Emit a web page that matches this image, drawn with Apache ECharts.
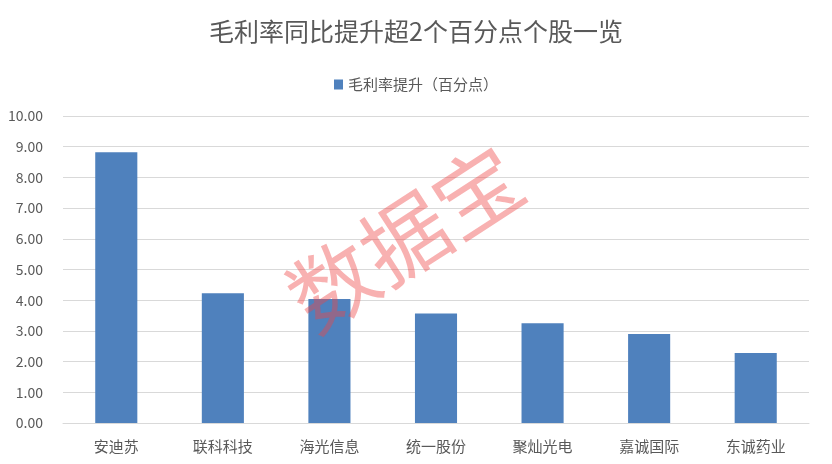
<!DOCTYPE html>
<html><head><meta charset="utf-8">
<script src="https://cdn.jsdelivr.net/npm/echarts@6/dist/echarts.min.js"></script>
<style>html,body{margin:0;padding:0;background:#fff}#c{width:832px;height:464px}</style>
</head><body><div id="c"></div>
<script>
const titleText = '毛利率同比提升超2个百分点个股一览';
const seriesName = '毛利率提升（百分点）';
const categories = ['安迪苏','联科科技','海光信息','统一股份','聚灿光电','嘉诚国际','东诚药业'];
const values = [8.82, 4.23, 4.04, 3.57, 3.25, 2.90, 2.28];
const yMin = 0, yMax = 10, yStep = 1;
const watermark = '数据宝';

const font = '"Noto Sans CJK SC","Noto Sans",sans-serif';
const chart = echarts.init(document.getElementById('c'));
chart.setOption({
  animation: false,
  backgroundColor: '#fff',
  title: {
    text: titleText, left: 'center', top: 14,
    textStyle: {fontFamily: font, fontSize: 25, fontWeight: 'normal', color: '#595959'}
  },
  legend: {
    data: [seriesName], top: 72, left: 'center',
    itemWidth: 9, itemHeight: 10, icon: 'rect',
    textStyle: {fontFamily: font, fontSize: 15, color: '#595959'}
  },
  grid: {left: 63, right: 23, top: 116, bottom: 41, containLabel: false},
  xAxis: {
    type: 'category', data: categories,
    axisLine: {show: true, lineStyle: {color: '#d9d9d9', width: 1}},
    axisTick: {show: false},
    axisLabel: {fontFamily: font, fontSize: 15, color: '#595959', margin: 16}
  },
  yAxis: {
    type: 'value', min: yMin, max: yMax, interval: yStep,
    axisLine: {show: false}, axisTick: {show: false},
    splitLine: {lineStyle: {color: '#d9d9d9', width: 1}},
    axisLabel: {fontFamily: font, fontSize: 14, color: '#595959', margin: 20,
      formatter: v => v.toFixed(2)}
  },
  series: [{
    name: seriesName, type: 'bar', data: values, barWidth: '39.5%',
    itemStyle: {color: '#4f81bd'}
  }],
  graphic: [{
    type: 'text', x: 405, y: 238, rotation: 33 * Math.PI / 180, z: 100,
    style: {text: watermark, fontFamily: font, fontSize: 86, fontWeight: 'normal',
      fill: 'rgba(238,70,70,0.42)', align: 'center', verticalAlign: 'middle'}
  }]
});
</script></body></html>
